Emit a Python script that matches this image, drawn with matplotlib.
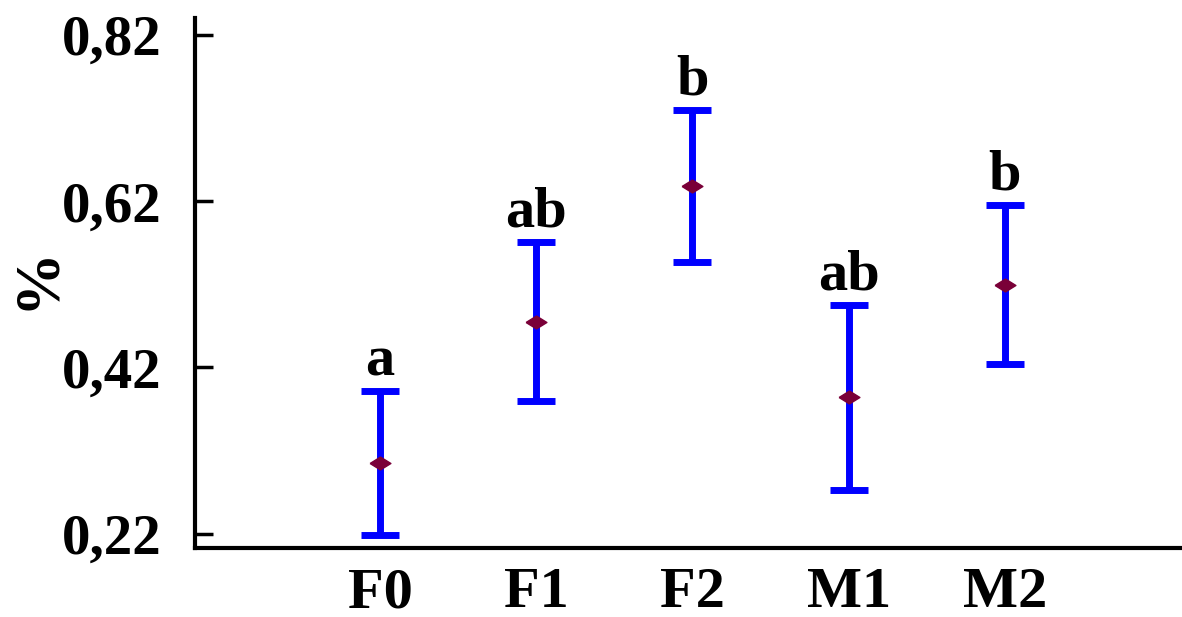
import matplotlib.pyplot as plt

groups = ['F0', 'F1', 'F2', 'M1', 'M2']
means = [0.305, 0.475, 0.638, 0.384, 0.519]
upper = [0.392, 0.571, 0.730, 0.495, 0.616]
lower = [0.219, 0.380, 0.547, 0.273, 0.424]
letters = ['a', 'ab', 'b', 'ab', 'b']
yticks = [0.22, 0.42, 0.62, 0.82]
ytick_labels = ['0,22', '0,42', '0,62', '0,82']

plt.rcParams['font.family'] = ['Liberation Serif', 'DejaVu Serif']
plt.rcParams['font.weight'] = 'bold'

fig = plt.figure(figsize=(11.82, 6.17), dpi=100)
ax = fig.add_axes([0.165, 0.112, 0.835, 0.859])

x = list(range(len(groups)))
err = [[m - lo for m, lo in zip(means, lower)],
       [hi - m for m, hi in zip(means, upper)]]
ax.errorbar(x, means, yerr=err, fmt='none', ecolor='#0000ff',
            elinewidth=5, capsize=14, capthick=5, zorder=2)
# flat diamond, a bit wider than tall
diamond = [(-1, 0), (0, 0.62), (1, 0), (0, -0.62), (-1, 0)]
ax.plot(x, means, linestyle='none', marker=diamond, markersize=15,
        color='#7a0038', markeredgecolor='#7a0038', zorder=3)

for xi, hi, lab in zip(x, upper, letters):
    ax.annotate(lab, (xi, hi), xytext=(0, 11), textcoords='offset points',
                ha='center', va='baseline', fontsize=42, fontweight='bold')

ax.set_xlim(-1.184, 5.133)
ax.set_ylim(0.203, 0.8405)
ax.set_xticks(x)
ax.set_xticklabels(groups, fontsize=42, fontweight='bold')
ax.set_yticks(yticks)
ax.set_yticklabels(ytick_labels, fontsize=41, fontweight='bold')
ax.tick_params(axis='y', direction='in', length=13, width=2.5, pad=24)
ax.tick_params(axis='x', length=0, pad=14)

for side in ['top', 'right']:
    ax.spines[side].set_visible(False)
for side in ['left', 'bottom']:
    ax.spines[side].set_linewidth(3)

ax.set_ylabel('%', fontsize=46, fontweight='bold')
ax.yaxis.set_label_coords(-0.13, 0.51)

fig.savefig('out.png', dpi=100)
